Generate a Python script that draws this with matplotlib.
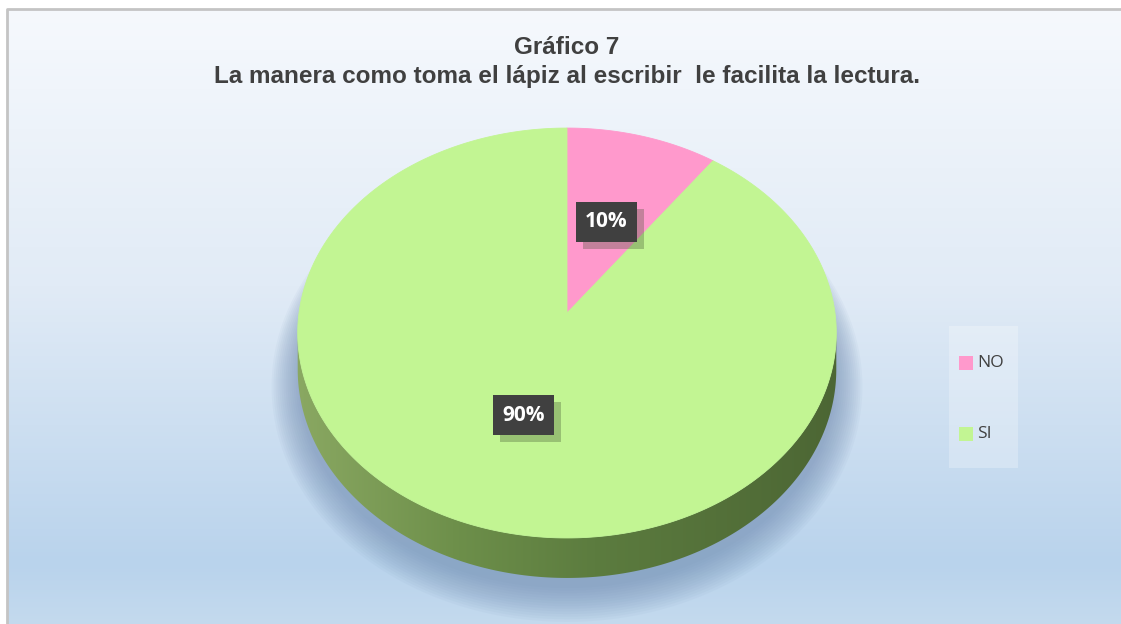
import matplotlib.pyplot as plt
import numpy as np
from matplotlib import patheffects
from matplotlib.colors import LinearSegmentedColormap
from matplotlib.patches import Polygon, Rectangle

# data
categories = ["NO", "SI"]
values = [10, 90]
colors = ["#ff99cc", "#c2f593"]
title = "Gráfico 7\nLa manera como toma el lápiz al escribir  le facilita la lectura."

W, H = 1121, 624
fig = plt.figure(figsize=(W / 100, H / 100), dpi=100, facecolor="white")
ax = fig.add_axes([0, 0, 1, 1])
ax.set_xlim(0, W)
ax.set_ylim(H, 0)
ax.axis("off")

# chart area background (vertical gradient) + border
bg = LinearSegmentedColormap.from_list(
    "bg", [(0, "#f6f9fd"), (0.45, "#e1ebf6"), (0.9, "#b9d3ec"), (1, "#c4daee")]
)
grad = np.linspace(0, 1, 256).reshape(-1, 1)
ax.imshow(grad, cmap=bg, extent=[7, W + 5, H + 2, 9], aspect="auto", zorder=0)
ax.plot([6.5, 6.5, W + 5], [H + 5, 8.5, 8.5], color="#c4c4c4", lw=2, zorder=1)

# perspective pie geometry
cx, cy = 567, 313
R, A, b = 268, 203, 0.0976
depth = 40


def proj(theta, r=1.0, drop=0.0):
    x = r * np.sin(theta)
    z = r * np.cos(theta)
    k = 1 + b * z
    sx = cx + R * x / k
    sy = cy - A * z / k + drop * (1 - b) / k
    return sx, sy


t = np.linspace(0, 2 * np.pi, 1441)
tx, ty = proj(t)
i_right = np.argmax(np.where(t < np.pi, tx, -1e9))
i_left = np.argmin(np.where(t > np.pi, tx, 1e9))
near = t[i_right:i_left + 1]

# soft shadow under the pie
for grow in np.linspace(26, 0, 14):
    sx, sy = proj(t, drop=depth)
    sx = cx + (sx - cx) * (1 + grow / R)
    sy = cy + 10 + (sy - cy) * (1 + grow / A)
    ax.fill(sx, sy, color="#6a86ad", alpha=0.05, lw=0, zorder=2)

# side wall
top_x, top_y = proj(near)
bot_x, bot_y = proj(near, drop=depth)
side = Polygon(
    np.column_stack([np.r_[top_x, bot_x[::-1]], np.r_[top_y, bot_y[::-1]]]),
    closed=True, facecolor="none", edgecolor="none", zorder=3,
)
ax.add_patch(side)
side_cm = LinearSegmentedColormap.from_list(
    "side", [(0, "#8aa862"), (0.3, "#6d8f4a"), (0.55, "#5c7c3f"), (1, "#4c6634")]
)
img = ax.imshow(
    np.linspace(0, 1, 256).reshape(1, -1), cmap=side_cm,
    extent=[tx.min() - 2, tx.max() + 2, H, 0], aspect="auto", zorder=3,
)
img.set_clip_path(side)

# top faces
fracs = np.array(values, dtype=float) / sum(values)
edges = np.r_[0, np.cumsum(fracs)] * 2 * np.pi
for a0, a1, col in zip(edges[:-1], edges[1:], colors):
    tt = np.linspace(a0, a1, 400)
    sx, sy = proj(tt)
    ax.add_patch(Polygon(np.column_stack([np.r_[cx, sx], np.r_[cy, sy]]),
                         closed=True, facecolor=col, edgecolor=col, lw=0.6, zorder=4))

# percentage labels
for a0, a1, v in zip(edges[:-1], edges[1:], values):
    lx, ly = proj((a0 + a1) / 2, r=0.5)
    txt = ax.text(lx, ly + 1, f"{v}%", ha="center", va="center", fontsize=15,
                  fontweight="bold", family="Open Sans", color="white", zorder=6,
                  bbox=dict(boxstyle="square,pad=0.45", facecolor="#404040", edgecolor="none"))
    txt.get_bbox_patch().set_path_effects([
        patheffects.SimplePatchShadow(offset=(5, -5), shadow_rgbFace="#3a4a2a", alpha=0.3),
        patheffects.Normal(),
    ])

# title
ax.text(567, 62, title, ha="center", va="center", fontsize=17.5, fontweight="bold",
        family="Liberation Sans", color="#404040", linespacing=1.3, zorder=6)

# legend
ax.add_patch(Rectangle((949, 326), 69, 142, facecolor="white", alpha=0.25, lw=0, zorder=5))
for i, (name, col) in enumerate(zip(categories, colors)):
    yy = 363 + i * 71
    ax.add_patch(Rectangle((959, yy - 7), 14, 14, facecolor=col, lw=0, zorder=6))
    ax.text(977, yy, name, ha="left", va="center", fontsize=12.5, family="Open Sans",
            color="#404040", zorder=6)

fig.savefig("out.png", dpi=100)
